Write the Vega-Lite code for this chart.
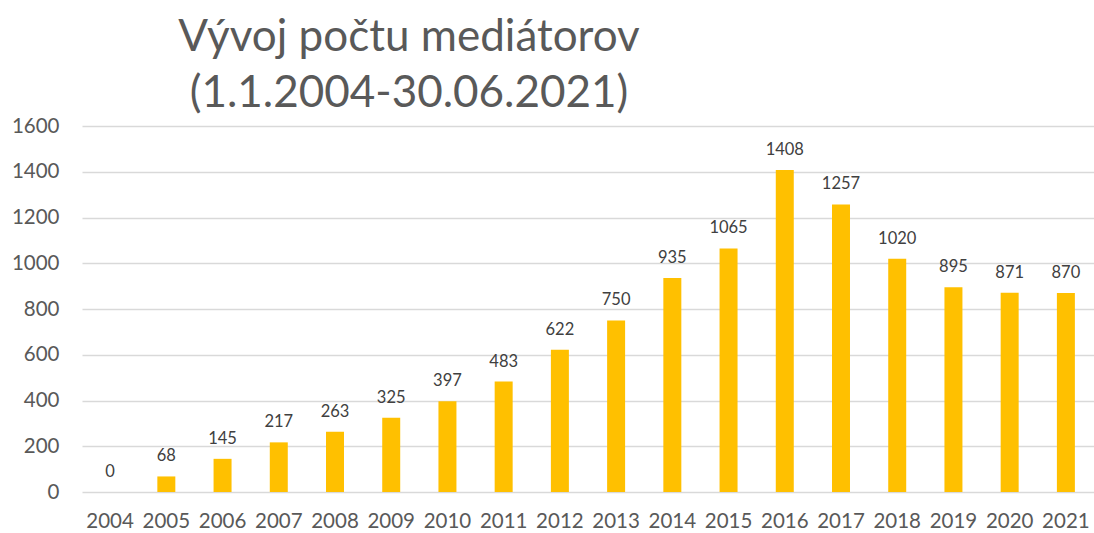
{
  "$schema": "https://vega.github.io/schema/vega-lite/v6.json",
  "width": 1012,
  "height": 366,
  "autosize": {"type": "none"},
  "padding": {"left": 82, "top": 126, "right": 0, "bottom": 41},
  "background": "white",
  "title": {
    "text": ["Vývoj počtu mediátorov", "(1.1.2004-30.06.2021)"],
    "font": "Lato",
    "fontSize": 44,
    "fontWeight": "normal",
    "color": "#595959",
    "anchor": "middle",
    "dx": -179,
    "offset": 0,
    "lineHeight": 56
  },
  "data": {
    "values": [
      {"year": "2004", "count": 0},
      {"year": "2005", "count": 68},
      {"year": "2006", "count": 145},
      {"year": "2007", "count": 217},
      {"year": "2008", "count": 263},
      {"year": "2009", "count": 325},
      {"year": "2010", "count": 397},
      {"year": "2011", "count": 483},
      {"year": "2012", "count": 622},
      {"year": "2013", "count": 750},
      {"year": "2014", "count": 935},
      {"year": "2015", "count": 1065},
      {"year": "2016", "count": 1408},
      {"year": "2017", "count": 1257},
      {"year": "2018", "count": 1020},
      {"year": "2019", "count": 895},
      {"year": "2020", "count": 871},
      {"year": "2021", "count": 870}
    ]
  },
  "encoding": {
    "x": {
      "field": "year",
      "type": "nominal",
      "sort": null,
      "scale": {"paddingInner": 0.68, "paddingOuter": 0.34},
      "axis": {
        "title": null,
        "labelAngle": 0,
        "labelFont": "Lato",
        "labelFontSize": 20.5,
        "labelColor": "#595959",
        "labelPadding": 19,
        "domain": false,
        "ticks": false,
        "grid": false
      }
    },
    "y": {
      "field": "count",
      "type": "quantitative",
      "scale": {"domain": [0, 1600], "nice": false},
      "axis": {
        "title": null,
        "format": "d",
        "values": [0, 200, 400, 600, 800, 1000, 1200, 1400, 1600],
        "labelFont": "Lato",
        "labelFontSize": 20.5,
        "labelColor": "#595959",
        "labelPadding": 23,
        "domain": false,
        "ticks": false,
        "grid": true,
        "gridColor": "#D9D9D9",
        "gridWidth": 1.5
      }
    }
  },
  "layer": [
    {"mark": {"type": "bar", "color": "#FFC000"}},
    {
      "mark": {
        "type": "text",
        "baseline": "bottom",
        "dy": -12,
        "font": "Lato",
        "fontSize": 16.5,
        "color": "#404040"
      },
      "encoding": {"text": {"field": "count", "type": "quantitative", "format": "d"}}
    }
  ],
  "config": {"view": {"stroke": null}}
}
